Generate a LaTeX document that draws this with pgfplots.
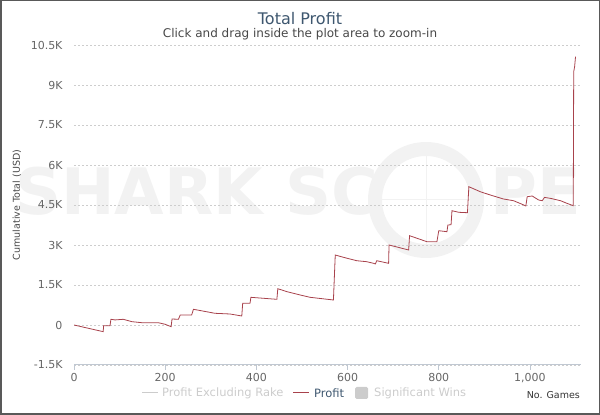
\documentclass[border=0pt]{standalone}
\usepackage{pgfplots}
\pgfplotsset{compat=1.18}
\usepackage{fontspec}
\setmainfont{DejaVu Sans}
\definecolor{profitred}{RGB}{168,66,76}
\definecolor{titleblue}{RGB}{62,87,111}
\definecolor{wm}{RGB}{242,242,242}
\definecolor{axisline}{RGB}{192,200,210}
\definecolor{gridc}{RGB}{205,205,205}
\definecolor{ticklab}{RGB}{102,102,102}
\definecolor{hidden}{RGB}{204,204,204}

\pgfplotstableread{
g v
0 0
64 -250
65 -26
79 -26
81 214
90 190
108 214
127 125
149 86
171 86
185 86
200 26
213 -64
215 225
229 214
233 375
258 375
262 589
290 500
309 439
342 413
368 338
370 813
386 813
388 1038
445 963
447 1361
467 1250
496 1125
518 1038
569 938
573 2625
591 2538
620 2411
642 2374
657 2313
661 2288
664 2411
690 2313
691 3000
734 2813
736 3349
774 3124
796 3124
800 3536
818 3499
820 3750
827 3760
829 4286
844 4226
863 4211
866 5186
891 4999
913 4875
942 4725
964 4661
983 4526
991 4463
994 4811
1005 4838
1019 4688
1027 4661
1032 4786
1045 4749
1067 4661
1081 4564
1095 4474
1096 9499
1098 9686
1100 10061
}\profit

\begin{document}
\begin{tikzpicture}
\useasboundingbox (0pt,0pt) rectangle (600pt,415pt);
% watermark
\node[anchor=base west, font=\fontsize{64}{64}\selectfont\bfseries, text=wm, inner sep=0] at (15pt,200pt) {SHARK SC};
\draw[wm, line width=14pt] (426pt,215pt) circle (51pt);
\draw[wm, line width=1pt] (426pt,170pt) -- (426pt,262pt);
\draw[wm, line width=1pt] (380pt,215pt) -- (472pt,215pt);
\node[anchor=base west, font=\fontsize{64}{64}\selectfont\bfseries, text=wm, inner sep=0] at (490pt,200pt) {PE};
% frame
\draw[black!65, line width=1.5pt] (0.75pt,0.75pt) rectangle (599.25pt,414.25pt);
% titles
\node[font=\fontsize{16}{16}\selectfont, text=titleblue] at (300pt,396pt) {Total Profit};
\node[font=\fontsize{12}{12}\selectfont, text=black!72] at (300pt,380.5pt) {Click and drag inside the plot area to zoom-in};
% y label
\node[rotate=90, font=\fontsize{9.5}{9.5}\selectfont, text=black!72] at (17pt,210pt) {Cumulative Total (USD)};
\begin{axis}[
  at={(74pt,50pt)}, anchor=south west, scale only axis,
  width=507pt, height=320pt,
  xmin=0, xmax=1112, ymin=-1500, ymax=10500,
  scaled ticks=false,
  axis x line*=bottom, axis y line*=left,
  y axis line style={draw=none},
  x axis line style={draw=axisline, line width=1pt, -},
  xtick={0,200,400,600,800,1000},
  xticklabels={0,200,400,600,800,{1,000}},
  ytick={-1500,0,1500,3000,4500,6000,7500,9000,10500},
  yticklabels={-1.5K,0,1.5K,3K,4.5K,6K,7.5K,9K,10.5K},
  ymajorgrids,
  major grid style={draw=gridc, line width=0.6pt, dash pattern=on 2pt off 2pt},
  ytick style={draw=none},
  xtick style={draw=axisline, line width=0.8pt},
  tick align=outside, major tick length=5pt,
  ticklabel style={font=\fontsize{11}{11}\selectfont, text=ticklab},
  yticklabel style={xshift=-3pt},
]
\addplot[profitred, line width=0.8pt, sharp plot] table[x=g, y=v] {\profit};
\end{axis}
% legend
\draw[hidden, line width=1pt] (142pt,22pt) -- (158pt,22pt);
\node[anchor=west, font=\fontsize{11.5}{11.5}\selectfont, text=hidden, inner sep=0] at (162pt,22pt) {Profit Excluding Rake};
\draw[profitred, line width=1pt] (293pt,22pt) -- (309pt,22pt);
\node[anchor=west, font=\fontsize{11.5}{11.5}\selectfont, text=titleblue, inner sep=0] at (314pt,22pt) {Profit};
\fill[hidden, rounded corners=1.5pt] (355pt,16pt) rectangle (368pt,28pt);
\node[anchor=west, font=\fontsize{11.5}{11.5}\selectfont, text=hidden, inner sep=0] at (374pt,22pt) {Significant Wins};
\node[anchor=east, font=\fontsize{9.5}{9.5}\selectfont, text=black!80, inner sep=0] at (580pt,20pt) {No. Games};
\end{tikzpicture}
\end{document}
